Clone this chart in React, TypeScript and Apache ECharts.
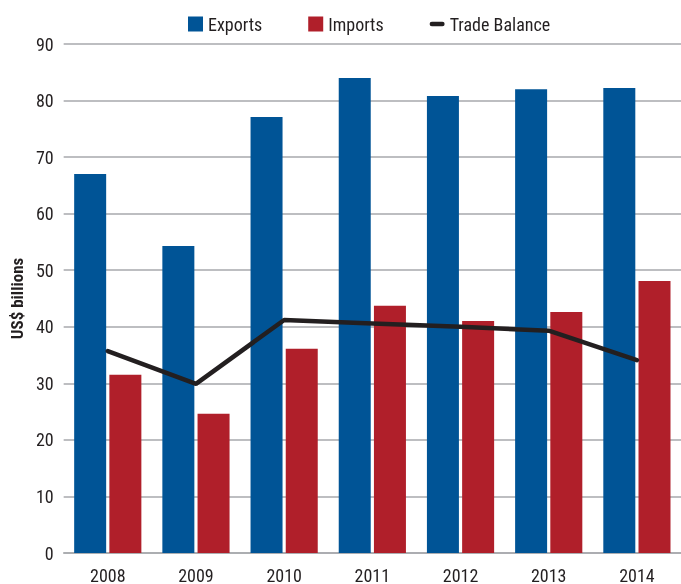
import React, { useEffect, useRef } from "react";
import * as echarts from "echarts";

const years = ["2008", "2009", "2010", "2011", "2012", "2013", "2014"];
const exportsData = [67.0, 54.3, 77.1, 84.0, 80.8, 82.0, 82.2];
const importsData = [31.5, 24.6, 36.1, 43.7, 41.0, 42.6, 48.1];
const balanceData = [35.7, 29.9, 41.2, 40.6, 40.0, 39.3, 34.1];
const yTicks = { min: 0, max: 90, interval: 10 };

const FONT = "'Roboto Condensed', 'Liberation Sans Narrow', Roboto, sans-serif";
const TEXT = "#231f20";
const LINE_ICON =
  "path://M2.5,0 L14.5,0 A2.5,2.5 0 0 1 14.5,5 L2.5,5 A2.5,2.5 0 0 1 2.5,0 Z";

export default function App() {
  const ref = useRef<HTMLDivElement>(null);
  useEffect(() => {
    if (!ref.current) return;
    const chart = echarts.init(ref.current, null, { renderer: "svg" });
    chart.setOption({
      animation: false,
      textStyle: { fontFamily: FONT, color: TEXT },
      legend: {
        left: 183,
        top: 10,
        itemWidth: 15,
        itemHeight: 15,
        itemGap: 46,
        symbolKeepAspect: true,
        textStyle: { fontFamily: FONT, fontSize: 18, color: TEXT },
        data: [
          { name: "Exports", icon: "rect" },
          { name: "Imports", icon: "rect" },
          { name: "Trade Balance", icon: LINE_ICON },
        ],
      },
      grid: { left: 62, right: 0, top: 44, bottom: 31, containLabel: false },
      xAxis: {
        type: "category",
        data: years,
        axisLine: { lineStyle: { color: "#a7a9ac", width: 1.5 } },
        axisTick: { show: false },
        axisLabel: { fontFamily: FONT, fontSize: 18, color: TEXT, margin: 13 },
      },
      yAxis: {
        type: "value",
        min: yTicks.min,
        max: yTicks.max,
        interval: yTicks.interval,
        name: "US$ billions",
        nameLocation: "middle",
        nameGap: 37,
        nameTextStyle: { fontFamily: FONT, fontSize: 17, fontWeight: "bold", color: TEXT },
        axisLine: { show: false },
        axisTick: { show: false },
        axisLabel: { fontFamily: FONT, fontSize: 18, color: TEXT, margin: 10 },
        splitLine: { lineStyle: { color: "#a7a9ac", width: 1.5 } },
      },
      series: [
        {
          name: "Exports",
          type: "bar",
          data: exportsData,
          barWidth: 32,
          barGap: "10%",
          itemStyle: { color: "#005496" },
        },
        {
          name: "Imports",
          type: "bar",
          data: importsData,
          barWidth: 32,
          itemStyle: { color: "#b01f2a" },
        },
        {
          name: "Trade Balance",
          type: "line",
          data: balanceData,
          symbol: "none",
          showSymbol: false,
          lineStyle: { color: "#231f20", width: 4.5, cap: "round" },
          itemStyle: { color: "#231f20" },
          z: 5,
        },
      ],
    });
    return () => chart.dispose();
  }, []);
  return (
    <div
      ref={ref}
      style={{ position: "fixed", left: 0, top: 0, width: 681, height: 584 }}
    />
  );
}
